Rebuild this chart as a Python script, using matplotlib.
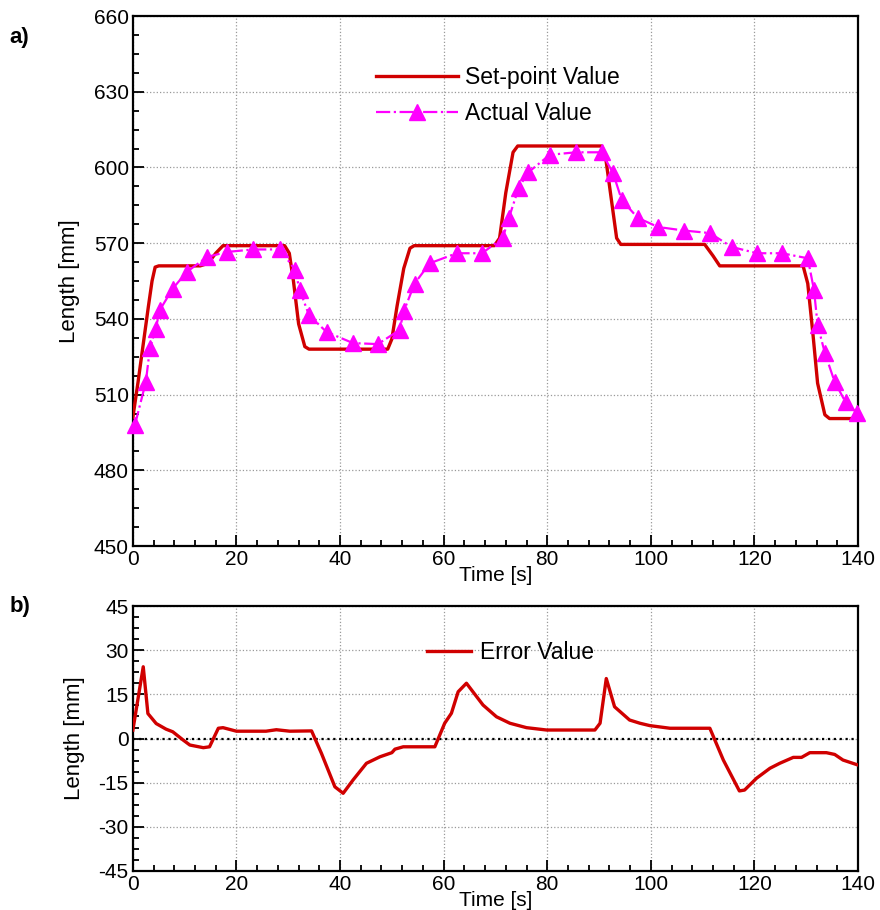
import matplotlib

matplotlib.use("Agg")
import matplotlib.pyplot as plt
from matplotlib.ticker import MultipleLocator

plt.rcParams["font.family"] = ["Liberation Sans", "DejaVu Sans"]
plt.rcParams["axes.unicode_minus"] = False

# set-point length (top panel)
sp_time = [0, 1, 2, 3, 3.7, 4.3, 5, 13, 14.5, 16, 17.4, 29.3, 30.2, 31, 32, 33.2, 34,
           49.2, 50, 51, 52.3, 53.5, 54.3, 69.8, 70.8, 72, 73.4, 74.3, 90.5, 91.2, 92.2,
           93.4, 94.2, 110.4, 112, 113.3, 129.4, 130.3, 131.3, 132.2, 133.6, 134.5, 140]
sp_value = [501, 515, 530, 545, 555, 560.5, 561, 561, 562, 566, 569, 569, 566, 555, 538, 529, 528,
            528, 532, 545, 560, 568, 569, 569, 572, 590, 606, 608.5, 608.5, 605, 590,
            572, 569.5, 569.5, 565, 561, 561, 554, 534, 514.5, 502, 500.5, 500.5]

# actual length (top panel, triangles)
act_time = [0.4, 2.5, 3.3, 4.4, 5.2, 7.7, 10.4, 14.3, 18.1, 23.2, 28.4, 31.3, 32.2, 34, 37.4,
            42.5, 47.3, 51.5, 52.3, 54.4, 57.3, 62.5, 67.4, 71.4, 72.6, 74.5, 76.3,
            80.5, 85.5, 90.5, 92.7, 94.4, 97.5, 101.4, 106.4, 111.4, 115.6, 120.5,
            125.3, 130.3, 131.5, 132.2, 133.6, 135.5, 137.6, 139.8]
act_value = [498, 515, 528.5, 536, 543.5, 552, 558.6, 564.5, 566.5, 567.5, 567.5, 559.5, 551.5,
             541.5, 534.8, 530.4, 530, 535.6, 543, 554, 562, 566, 566, 572, 580, 592, 598,
             605, 606, 606, 597.8, 587, 580, 576.4, 575, 574, 568.5, 566, 566, 564,
             551.5, 537.6, 526.5, 515, 507, 502.7]

# error value (bottom panel)
err_time = [0, 2, 2.9, 4.5, 6.4, 7.7, 9.7, 11, 13.6, 14.8, 16.5, 17.4, 20, 25.7, 27.7,
            30.3, 34.5, 36.4, 39, 40.6, 42.5, 45.1, 47.7, 50, 50.6, 52.2, 58.3, 60.2,
            61.5, 62.8, 64.4, 67.6, 70.2, 72.8, 76, 79.9, 89.2, 90.2, 91.4, 93, 95.9,
            97.9, 99.8, 103.7, 111.4, 114, 117.1, 118.1, 120.4, 123, 124.9, 127.5,
            129.1, 130.7, 133.9, 135.5, 137.1, 140]
err_value = [2.9, 24.4, 8.5, 5.1, 3.2, 2.3, -0.5, -2.2, -3.1, -2.8, 3.5, 3.7, 2.5, 2.5, 3,
             2.5, 2.6, -5, -16.4, -18.6, -14.1, -8.4, -6.2, -4.8, -3.6, -2.8, -2.8, 5.2,
             8.6, 15.9, 18.8, 11.4, 7.4, 5.2, 3.7, 2.9, 2.9, 5.2, 20.4, 10.8, 6.3,
             5.2, 4.4, 3.5, 3.5, -7.3, -17.8, -17.5, -13.5, -10.1, -8.4, -6.4,
             -6.4, -4.8, -4.8, -5.4, -7.3, -9]

x_ticks = [0, 20, 40, 60, 80, 100, 120, 140]

RED = "#d00000"
MAGENTA = "#ff00ff"
FS = 15
LEG_FS = 16.5


def style_axes(ax, ymin, ymax, ystep, yminor):
    ax.set_xlim(0, 140)
    ax.set_ylim(ymin, ymax)
    ax.set_xticks(x_ticks)
    ax.set_yticks(range(ymin, ymax + 1, ystep))
    ax.xaxis.set_minor_locator(MultipleLocator(4))
    ax.yaxis.set_minor_locator(MultipleLocator(yminor))
    ax.tick_params(which="both", direction="in", top=False, right=False,
                   labelsize=FS, width=1.3, pad=3)
    ax.tick_params(which="major", length=8)
    ax.tick_params(which="minor", length=4)
    ax.grid(True, which="major", linestyle=":", color="#999999", linewidth=0.9)
    for sp in ax.spines.values():
        sp.set_linewidth(1.6)
    ax.set_xlabel("Time [s]", fontsize=FS, labelpad=-2)
    ax.set_ylabel("Length [mm]", fontsize=16, labelpad=10)


fig = plt.figure(figsize=(8.8, 9.1), dpi=100)
ax1 = fig.add_axes([0.151, 0.400, 0.824, 0.5824])
ax2 = fig.add_axes([0.151, 0.0429, 0.824, 0.291])

ax1.plot(sp_time, sp_value, color=RED, linewidth=2.4, label="Set-point Value", zorder=3)
ax1.plot(act_time, act_value, color=MAGENTA, linestyle="-.", linewidth=1.6,
         marker="^", markersize=11, label="Actual Value", zorder=4, clip_on=False)
style_axes(ax1, 450, 660, 30, 7.5)
ax1.legend(loc="upper left", bbox_to_anchor=(0.335, 0.905), frameon=False, fontsize=LEG_FS,
           handlelength=3.6, handletextpad=0.3, labelspacing=0.55, borderpad=0,
           borderaxespad=0)

ax2.axhline(0, color="black", linestyle=":", linewidth=1.6, zorder=2)
ax2.plot(err_time, err_value, color=RED, linewidth=2.4, label="Error Value", zorder=3)
style_axes(ax2, -45, 45, 15, 3.75)
ax2.legend(loc="upper left", bbox_to_anchor=(0.406, 0.868), frameon=False, fontsize=LEG_FS,
           handlelength=1.9, handletextpad=0.4, borderpad=0, borderaxespad=0)

fig.text(0.011, 0.953, "a)", fontsize=FS + 1, fontweight="bold")
fig.text(0.011, 0.328, "b)", fontsize=FS + 1, fontweight="bold")

fig.savefig("out.png", dpi=100, facecolor="white")
